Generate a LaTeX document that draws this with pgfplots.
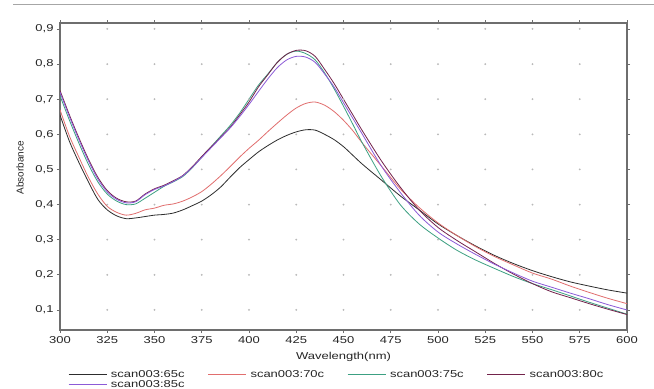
\documentclass[border=0pt]{standalone}
\usepackage{fontspec}
\setmainfont{Liberation Sans}[FakeStretch=1.3]
\newfontfamily\ylabfont{Liberation Sans}
\usepackage{pgfplots}
\pgfplotsset{compat=1.18}
\definecolor{c65}{RGB}{45,45,45}
\definecolor{c70}{RGB}{225,110,110}
\definecolor{c75}{RGB}{60,160,130}
\definecolor{c80}{RGB}{115,35,75}
\definecolor{c85}{RGB}{140,90,215}
\definecolor{axgray}{RGB}{110,110,110}
\begin{document}
\begin{tikzpicture}
\useasboundingbox (0,0) rectangle (654bp,389bp);
\fill[white] (0,0) rectangle (654bp,389bp);
\draw[gray!70, line width=1bp] (13bp,384bp) -- (654bp,384bp);
\begin{axis}[
  at={(60bp,59bp)}, anchor=south west,
  width=567bp, height=307bp, scale only axis,
  xmin=300, xmax=600, ymin=0.043, ymax=0.917,
  xtick={300,325,350,375,400,425,450,475,500,525,550,575,600},
  ytick={0.1,0.2,0.3,0.4,0.5,0.6,0.7,0.8,0.9},
  tick align=outside, major tick length=3bp,
  tick style={axgray, line width=0.8bp},
  axis line style={axgray, line width=1.3bp},
  font=\fontsize{10bp}{12bp}\selectfont,
  tick label style={black!85},
  /pgf/number format/assume math mode=true,
  y tick label style={/pgf/number format/.cd, fixed, fixed zerofill, precision=1, use comma},
  x tick label style={/pgf/number format/.cd, fixed, precision=0},
  xlabel={Wavelength(nm)},
  xlabel style={at={(axis description cs:0.5,0)}, anchor=center, yshift=-27bp, black!85},
  ylabel={\ylabfont Absorbance},
  ylabel style={at={(axis description cs:-0.0705,0.528)}, anchor=center, black!85},
  legend columns=4,
  legend image code/.code={\draw[#1] (0bp,0bp) -- (38bp,0bp);},
  legend style={at={(axis description cs:0,0)}, anchor=north west, xshift=5bp, yshift=-38bp,
    draw=none, fill=none, font=\fontsize{10bp}{12bp}\selectfont, text=black!85,
    nodes={inner sep=0pt, text height=7.2bp, text depth=1.6bp},
    row sep=1bp,
    /tikz/every odd column/.append style={column sep=4bp},
    /tikz/every even column/.append style={column sep=23bp}},
  legend cell align=left,
  every axis plot/.append style={line width=0.8bp},
]
% grid dots
\addplot[only marks, mark=*, mark size=0.45bp, gray!55, forget plot] coordinates {
(325,0.1)(350,0.1)(375,0.1)(400,0.1)(425,0.1)(450,0.1)(475,0.1)(500,0.1)(525,0.1)(550,0.1)(575,0.1)
(325,0.2)(350,0.2)(375,0.2)(400,0.2)(425,0.2)(450,0.2)(475,0.2)(500,0.2)(525,0.2)(550,0.2)(575,0.2)
(325,0.3)(350,0.3)(375,0.3)(400,0.3)(425,0.3)(450,0.3)(475,0.3)(500,0.3)(525,0.3)(550,0.3)(575,0.3)
(325,0.4)(350,0.4)(375,0.4)(400,0.4)(425,0.4)(450,0.4)(475,0.4)(500,0.4)(525,0.4)(550,0.4)(575,0.4)
(325,0.5)(350,0.5)(375,0.5)(400,0.5)(425,0.5)(450,0.5)(475,0.5)(500,0.5)(525,0.5)(550,0.5)(575,0.5)
(325,0.6)(350,0.6)(375,0.6)(400,0.6)(425,0.6)(450,0.6)(475,0.6)(500,0.6)(525,0.6)(550,0.6)(575,0.6)
(325,0.7)(350,0.7)(375,0.7)(400,0.7)(425,0.7)(450,0.7)(475,0.7)(500,0.7)(525,0.7)(550,0.7)(575,0.7)
(325,0.8)(350,0.8)(375,0.8)(400,0.8)(425,0.8)(450,0.8)(475,0.8)(500,0.8)(525,0.8)(550,0.8)(575,0.8)
(325,0.9)(350,0.9)(375,0.9)(400,0.9)(425,0.9)(450,0.9)(475,0.9)(500,0.9)(525,0.9)(550,0.9)(575,0.9)
};
% 65c
\addplot[c65, smooth] coordinates {
(300,0.655)(305,0.580)(310,0.520)(315,0.465)(320,0.415)(325,0.385)(330,0.368)(335,0.360)(340,0.362)
(345,0.366)(350,0.370)(355,0.372)(360,0.376)(365,0.385)(370,0.397)(375,0.410)(380,0.428)(385,0.450)
(390,0.478)(395,0.505)(400,0.528)(405,0.550)(410,0.568)(415,0.584)(420,0.597)(425,0.607)(430,0.613)
(435,0.612)(440,0.600)(445,0.585)(450,0.565)(455,0.540)(460,0.515)(470,0.470)(480,0.425)(490,0.385)
(500,0.345)(510,0.312)(520,0.282)(530,0.255)(540,0.232)(550,0.212)(560,0.195)(570,0.180)(580,0.168)
(590,0.157)(600,0.148)
};
\addlegendentry{scan003:65c}
% 70c
\addplot[c70, smooth] coordinates {
(300,0.670)(305,0.595)(310,0.535)(315,0.478)(320,0.430)(325,0.395)(330,0.378)(335,0.370)(340,0.375)
(345,0.385)(350,0.390)(355,0.398)(360,0.402)(365,0.410)(370,0.422)(375,0.437)(380,0.458)(385,0.482)
(390,0.508)(395,0.535)(400,0.560)(405,0.583)(410,0.608)(415,0.632)(420,0.655)(425,0.675)(430,0.688)
(435,0.692)(440,0.683)(445,0.665)(450,0.640)(455,0.610)(460,0.575)(470,0.510)(480,0.445)(490,0.392)
(500,0.348)(510,0.312)(520,0.280)(530,0.252)(540,0.228)(550,0.205)(560,0.188)(570,0.168)(580,0.150)
(590,0.133)(600,0.118)
};
\addlegendentry{scan003:70c}
% 75c
\addplot[c75, smooth] coordinates {
(300,0.710)(305,0.640)(310,0.575)(315,0.515)(320,0.465)(325,0.430)(330,0.410)(335,0.400)(340,0.402)
(345,0.418)(350,0.435)(355,0.452)(360,0.465)(365,0.480)(370,0.505)(375,0.535)(380,0.565)(385,0.595)
(390,0.625)(395,0.660)(400,0.700)(405,0.740)(410,0.772)(415,0.805)(420,0.828)(425,0.837)(430,0.830)
(435,0.812)(440,0.775)(445,0.730)(450,0.680)(455,0.628)(460,0.575)(470,0.480)(480,0.400)(490,0.345)
(500,0.305)(510,0.270)(520,0.242)(530,0.218)(540,0.195)(550,0.175)(560,0.158)(570,0.140)(580,0.122)
(590,0.105)(600,0.088)
};
\addlegendentry{scan003:75c}
% 80c
\addplot[c80, smooth] coordinates {
(300,0.725)(305,0.655)(310,0.590)(315,0.530)(320,0.478)(325,0.440)(330,0.418)(335,0.408)(340,0.410)
(345,0.430)(350,0.445)(355,0.455)(360,0.468)(365,0.483)(370,0.508)(375,0.537)(380,0.565)(385,0.592)
(390,0.620)(395,0.655)(400,0.692)(405,0.735)(410,0.770)(415,0.805)(420,0.828)(425,0.839)(430,0.838)
(435,0.822)(440,0.785)(445,0.745)(450,0.700)(455,0.655)(460,0.610)(470,0.525)(480,0.450)(490,0.385)
(500,0.335)(510,0.298)(520,0.265)(530,0.232)(540,0.202)(550,0.175)(560,0.152)(570,0.135)(580,0.118)
(590,0.102)(600,0.087)
};
\addlegendentry{scan003:80c}
% 85c
\addplot[c85, smooth] coordinates {
(300,0.720)(305,0.650)(310,0.585)(315,0.525)(320,0.473)(325,0.436)(330,0.415)(335,0.405)(340,0.408)
(345,0.428)(350,0.443)(355,0.453)(360,0.466)(365,0.482)(370,0.506)(375,0.534)(380,0.562)(385,0.590)
(390,0.618)(395,0.650)(400,0.685)(405,0.722)(410,0.758)(415,0.790)(420,0.812)(425,0.822)(430,0.820)
(435,0.805)(440,0.772)(445,0.735)(450,0.690)(455,0.645)(460,0.600)(470,0.510)(480,0.435)(490,0.370)
(500,0.322)(510,0.288)(520,0.258)(530,0.230)(540,0.205)(550,0.182)(560,0.165)(570,0.148)(580,0.132)
(590,0.115)(600,0.100)
};
\addlegendentry{scan003:85c}
\end{axis}
\end{tikzpicture}
\end{document}
